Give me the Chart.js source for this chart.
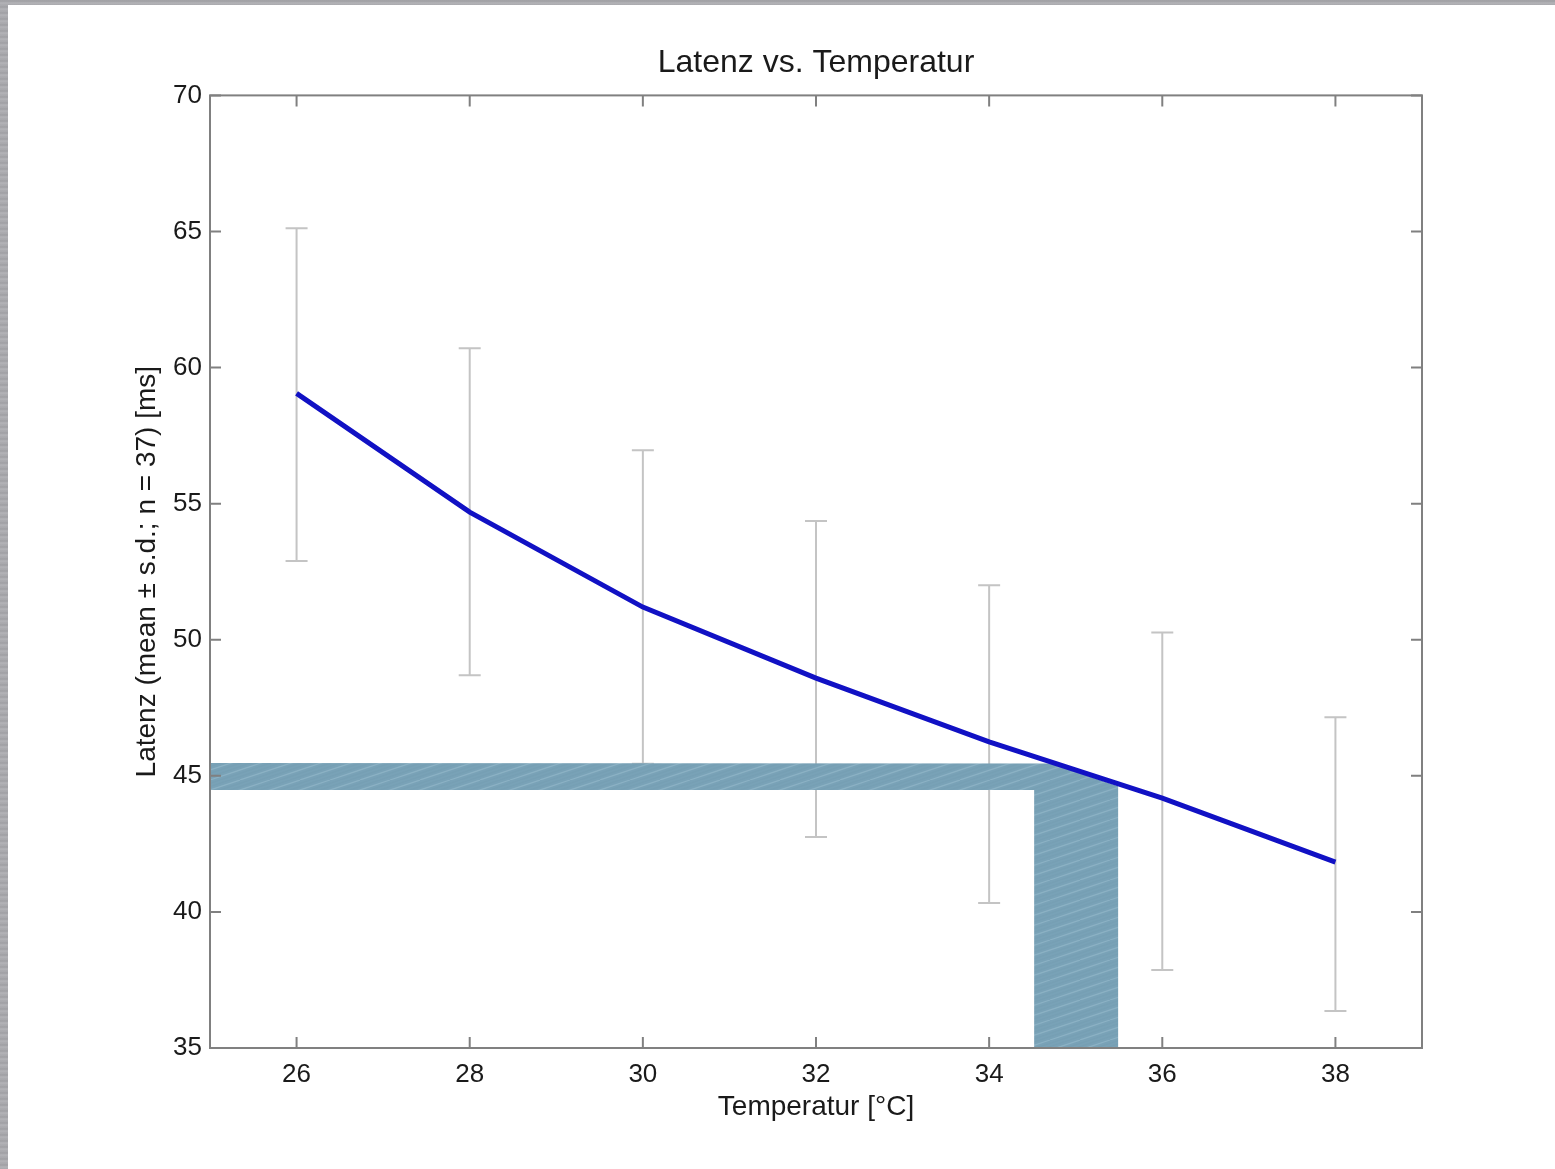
<!DOCTYPE html>
<html>
<head>
<meta charset="utf-8">
<script src="https://cdn.jsdelivr.net/npm/chart.js@4.4.0/dist/chart.umd.min.js"></script>
<style>
    html, body { margin: 0; padding: 0; background: #fff; }
    #wrap { position: relative; width: 1555px; height: 1169px; overflow: hidden; }
    #chart { position: absolute; left: 0; top: 0; }
    .strip { position: absolute; background: repeating-linear-gradient(0deg, #a9a9ad 0px, #b4b4b8 2px, #9f9fa3 4px, #adadb1 6px); }
    #stripTop { left: 0; top: 0; width: 1555px; height: 5px; }
    #stripLeft { left: 0; top: 0; width: 8px; height: 1169px; }
</style>
</head>
<body>
<div id="wrap">
    <canvas id="chart" width="1555" height="1169"></canvas>
    <div class="strip" id="stripTop"></div>
    <div class="strip" id="stripLeft"></div>
</div>
<script>
// temperatures [°C]
const temps = [26, 28, 30, 32, 34, 36, 38];
// mean latency [ms]
const latencyMean = [59.05, 54.69, 51.2, 48.59, 46.25, 44.18, 41.83];
// mean - s.d. / mean + s.d.
const latencyLow = [52.89, 48.70, 45.44, 42.75, 40.33, 37.87, 36.36];
const latencyHigh = [65.12, 60.71, 56.96, 54.36, 52.0, 50.27, 47.15];
// tick labels
const xTicks = [26, 28, 30, 32, 34, 36, 38];
const yTicks = [35, 40, 45, 50, 55, 60, 65, 70];
// blue redaction patch laid over the plot (x, y in data units)
const patchX = [25, 34.72, 35.49, 35.49, 34.52, 34.52, 25];
const patchY = [45.47, 45.45, 44.62, 35, 35, 44.48, 44.48];

const FONT = "'Liberation Sans', Arial, sans-serif";

// brushed look of the patch: thin light streaks, shallow slope, tiles seamlessly
function makePattern(ctx) {
    const c = document.createElement('canvas');
    c.width = 60; c.height = 20;
    const g = c.getContext('2d');
    g.fillStyle = '#79a2b7';
    g.fillRect(0, 0, 60, 20);
    g.lineWidth = 1.2;
    for (let x = -60; x <= 60; x += 10) {
        g.strokeStyle = (x / 10) % 3 === 0 ? 'rgba(175,205,220,0.35)' : 'rgba(110,150,170,0.25)';
        g.beginPath();
        g.moveTo(x, 20);
        g.lineTo(x + 60, 0);
        g.stroke();
    }
    return ctx.createPattern(c, 'repeat');
}

// error bars + the blue patch, both under the mean line
const underLayer = {
    id: 'underLayer',
    beforeDatasetsDraw(chart) {
        const ctx = chart.ctx, xs = chart.scales.x, ys = chart.scales.y;
        ctx.save();
        ctx.strokeStyle = '#c4c4c4';
        ctx.lineWidth = 2;
        temps.forEach((t, i) => {
            const px = xs.getPixelForValue(t);
            const lo = ys.getPixelForValue(latencyLow[i]);
            const hi = ys.getPixelForValue(latencyHigh[i]);
            ctx.beginPath();
            ctx.moveTo(px, lo); ctx.lineTo(px, hi);
            ctx.moveTo(px - 11, lo); ctx.lineTo(px + 11, lo);
            ctx.moveTo(px - 11, hi); ctx.lineTo(px + 11, hi);
            ctx.stroke();
        });

        ctx.fillStyle = makePattern(ctx);
        ctx.beginPath();
        patchX.forEach((x, i) => {
            const px = xs.getPixelForValue(x), py = ys.getPixelForValue(patchY[i]);
            if (i === 0) ctx.moveTo(px, py); else ctx.lineTo(px, py);
        });
        ctx.closePath();
        ctx.fill();
        ctx.restore();
    }
};

// matlab style box with inward ticks
const boxFrame = {
    id: 'boxFrame',
    afterDraw(chart) {
        const ctx = chart.ctx, a = chart.chartArea;
        const xs = chart.scales.x, ys = chart.scales.y;
        ctx.save();
        ctx.strokeStyle = '#808080';
        ctx.lineWidth = 2;
        ctx.strokeRect(a.left, a.top, a.right - a.left, a.bottom - a.top);
        ctx.beginPath();
        xTicks.forEach(v => {
            const px = xs.getPixelForValue(v);
            ctx.moveTo(px, a.bottom); ctx.lineTo(px, a.bottom - 11);
            ctx.moveTo(px, a.top); ctx.lineTo(px, a.top + 11);
        });
        yTicks.forEach(v => {
            const py = ys.getPixelForValue(v);
            ctx.moveTo(a.left, py); ctx.lineTo(a.left + 11, py);
            ctx.moveTo(a.right, py); ctx.lineTo(a.right - 11, py);
        });
        ctx.stroke();
        ctx.restore();
    }
};

new Chart(document.getElementById('chart'), {
    type: 'line',
    data: {
        datasets: [{
            label: 'Latenz',
            data: temps.map((t, i) => ({ x: t, y: latencyMean[i] })),
            borderColor: '#1111c4',
            borderWidth: 5,
            pointRadius: 0,
            tension: 0,
            fill: false
        }]
    },
    options: {
        responsive: false,
        animation: false,
        layout: { padding: { left: 0, right: 133, top: 0, bottom: 0 } },
        plugins: {
            legend: { display: false },
            tooltip: { enabled: false },
            title: {
                display: true,
                fullSize: false,
                text: 'Latenz vs. Temperatur',
                color: '#1a1a1a',
                font: { family: FONT, size: 32, weight: 'normal' },
                padding: { top: 44, bottom: 13 }
            }
        },
        scales: {
            x: {
                type: 'linear',
                min: 25,
                max: 39,
                afterBuildTicks: s => { s.ticks = xTicks.map(v => ({ value: v })); },
                afterFit: s => { s.height = 121; },
                grid: { display: false, drawTicks: false },
                border: { display: false },
                ticks: { color: '#1a1a1a', padding: 11, font: { family: FONT, size: 26 } },
                title: {
                    display: true,
                    text: 'Temperatur [°C]',
                    color: '#1a1a1a',
                    font: { family: FONT, size: 28 },
                    padding: { top: 0, bottom: 45 }
                }
            },
            y: {
                type: 'linear',
                min: 35,
                max: 70,
                afterBuildTicks: s => { s.ticks = yTicks.map(v => ({ value: v })); },
                afterFit: s => { s.width = 210; },
                grid: { display: false, drawTicks: false },
                border: { display: false },
                ticks: { color: '#1a1a1a', padding: 8, font: { family: FONT, size: 26 } },
                title: {
                    display: true,
                    text: 'Latenz (mean ± s.d.; n = 37) [ms]',
                    color: '#1a1a1a',
                    font: { family: FONT, size: 28 },
                    padding: { top: 130, bottom: 0 }
                }
            }
        }
    },
    plugins: [underLayer, boxFrame]
});
</script>
</body>
</html>
